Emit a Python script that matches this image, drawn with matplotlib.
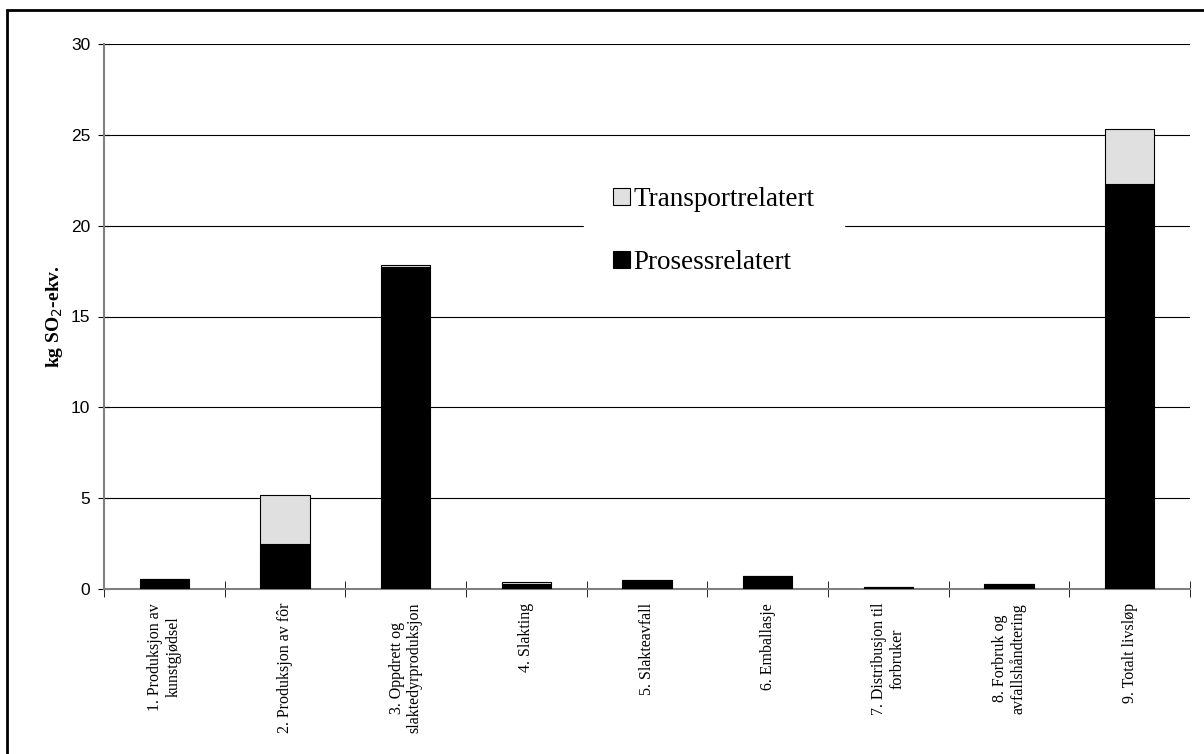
# Forsuring (kg SO2-ekv.) per livsløpsfase

import numpy as np
import matplotlib.pyplot as plt
from matplotlib.patches import Rectangle

categories = ['1. Produksjon av\nkunstgjødsel',
              '2. Produksjon av fôr',
              '3. Oppdrett og\nslaktedyrproduksjon',
              '4. Slakting',
              '5. Slakteavfall',
              '6. Emballasje',
              '7. Distribusjon til\nforbruker',
              '8. Forbruk og\navfallshåndtering',
              '9. Totalt livsløp']

prosess = [0.55, 2.5, 17.75, 0.3, 0.5, 0.7, 0.12, 0.25, 22.3]
transport = [0.0, 2.7, 0.08, 0.08, 0.0, 0.0, 0.0, 0.0, 3.0]

yticks = [0, 5, 10, 15, 20, 25, 30]

fig = plt.figure(figsize=(12.04, 7.54), dpi=100)
ax = fig.add_axes([104/1204, 1-589/754, (1190-104)/1204, (589-44)/754])

x = np.arange(len(categories))
ax.bar(x, prosess, width=0.41, color='black', edgecolor='black', lw=0.8,
       label='Prosessrelatert', zorder=3)
ax.bar(x, transport, bottom=prosess, width=0.41, color='#e0e0e0',
       edgecolor='black', lw=0.8, label='Transportrelatert', zorder=3)

ax.set_xlim(-0.5, len(categories) - 0.5)
ax.set_ylim(0, 30)
ax.set_yticks(yticks)
ax.set_yticklabels([str(v) for v in yticks], fontfamily='Liberation Sans', fontsize=12.5)
ax.yaxis.grid(True, color='black', lw=0.8, zorder=0)

ax.set_xticks(x)
ax.set_xticklabels(categories, rotation=90, fontfamily='Liberation Serif',
                   fontsize=11.5, va='top', ha='center', multialignment='center',
                   linespacing=1.15)
ax.tick_params(axis='x', length=0, pad=10)
ax.set_xticks(np.arange(len(categories) + 1) - 0.5, minor=True)
ax.tick_params(axis='x', which='minor', length=11, direction='inout', color='black')
ax.tick_params(axis='y', length=8, direction='inout', color='black', pad=6)

for s in ['top', 'right']:
    ax.spines[s].set_visible(False)
for s in ['left', 'bottom']:
    ax.spines[s].set_color('#808080')
    ax.spines[s].set_linewidth(1.5)

ax.set_ylabel('kg SO$_2$-ekv.', fontfamily='Liberation Serif', fontweight='bold',
              fontsize=14, labelpad=4)

handles, labels = ax.get_legend_handles_labels()
leg = ax.legend(handles[::-1], labels[::-1], loc='center',
                bbox_to_anchor=((714-104)/1086, (589-231)/545),
                prop={'family': 'Liberation Serif', 'size': 19.5},
                frameon=True, fancybox=False, edgecolor='white', framealpha=1,
                handlelength=0.6, handleheight=0.6, handletextpad=0.15,
                labelspacing=1.4, borderpad=1.1, borderaxespad=0)
leg.set_zorder(5)

# ramme rundt hele figuren
fig.patches.append(Rectangle((7/1204, -0.05), 1.1, 1-10/754+0.05,
                             transform=fig.transFigure, fill=False,
                             edgecolor='black', lw=2))

plt.savefig('out.png', dpi=100)
